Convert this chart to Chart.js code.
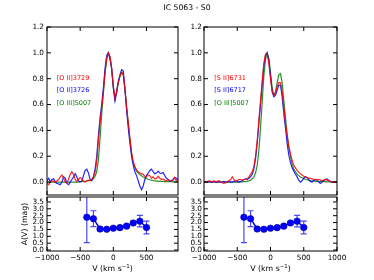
<!DOCTYPE html>
<html><head><meta charset="utf-8">
<script src="https://cdn.jsdelivr.net/npm/chart.js@4/dist/chart.umd.min.js"></script>
<style>
html,body{margin:0;padding:0;background:#fff;}
#wrap{position:relative;width:374px;height:280px;overflow:hidden;font-family:"DejaVu Sans",sans-serif;color:#000;}
canvas{position:absolute;left:0;top:0;}
.t{position:absolute;white-space:nowrap;line-height:1;transform:translate(-50%,-50%);}
.lg{position:absolute;white-space:nowrap;line-height:1;transform:translate(0,-50%);font-size:6.5px;}
sup{font-size:70%;vertical-align:0;position:relative;top:-0.45em;}
</style></head><body>
<div id="wrap">
<canvas id="c1" width="374" height="280"></canvas>
<canvas id="c2" width="374" height="280"></canvas>
<canvas id="c3" width="374" height="280"></canvas>
<canvas id="c4" width="374" height="280"></canvas>
<div class="t" style="left:187px;top:8px;font-size:7.7px;">IC 5063 - S0</div>
<div class="lg" style="left:56.7px;top:77.5px;color:#ff0000;">[O II]3729</div>
<div class="lg" style="left:56.7px;top:90px;color:#0000ff;">[O II]3726</div>
<div class="lg" style="left:56.7px;top:102.7px;color:#008000;">[O III]5007</div>
<div class="lg" style="left:214.3px;top:77.5px;color:#ff0000;">[S II]6731</div>
<div class="lg" style="left:214.3px;top:90px;color:#0000ff;">[S II]6717</div>
<div class="lg" style="left:214.3px;top:102.7px;color:#008000;">[O III]5007</div>
<div class="t" style="left:25px;top:223.5px;font-size:7.8px;transform:translate(-50%,-50%) rotate(-90deg);">A(V) (mag)</div>
<div class="t" style="left:112.5px;top:268.5px;font-size:7.8px;">V (km s<sup>−1</sup>)</div>
<div class="t" style="left:270.5px;top:268.5px;font-size:7.8px;">V (km s<sup>−1</sup>)</div>
</div>
<script>
// ---------- data ----------
const velocity = [-1000,-975,-950,-925,-900,-875,-850,-825,-800,-775,
 -750,-725,-700,-675,-650,-625,-600,-575,-550,-525,
 -500,-475,-450,-425,-400,-375,-350,-325,-300,-275,
 -250,-225,-200,-175,-150,-125,-100,-75,-50,-25,
 0,25,50,75,100,125,150,175,200,225,
 250,275,300,325,350,375,400,425,450,475,
 500,525,550,575,600,625,650,675,700,725,
 750,775,800,825,850,875,900,925,950,975,
 1000];

const oii3729 = [-0.01,-0.02,0.0,0.01,0.005,0.0,0.01,0.02,0.04,0.055,
 0.03,0.0,-0.005,0.02,0.06,0.08,0.06,0.02,0.005,0.02,
 0.035,0.025,0.005,0.0,0.01,0.015,0.01,0.02,0.04,0.08,
 0.16,0.32,0.46,0.58,0.7,0.85,0.96,1.0,0.97,0.88,
 0.74,0.65,0.7,0.77,0.82,0.85,0.83,0.72,0.58,0.46,
 0.34,0.23,0.16,0.12,0.095,0.08,0.07,0.065,0.06,0.045,
 0.04,0.055,0.05,0.03,0.04,0.025,0.03,0.045,0.03,0.02,
 0.025,0.015,0.01,0.02,0.01,0.005,0.015,0.035,0.01,0.0,
 0.0];

const oii3726 = [0.01,0.03,0.0,0.02,0.025,0.0,-0.01,-0.015,-0.02,0.0,
 0.04,0.03,-0.01,-0.02,0.0,0.02,0.04,0.065,0.04,0.01,
 0.0,0.01,0.05,0.09,0.1,0.07,0.02,0.01,0.04,0.1,
 0.2,0.36,0.5,0.6,0.73,0.88,0.98,1.0,0.95,0.88,
 0.74,0.63,0.7,0.78,0.83,0.87,0.86,0.72,0.56,0.42,
 0.3,0.2,0.13,0.08,0.05,0.01,-0.03,-0.06,-0.03,0.02,
 0.05,0.07,0.09,0.1,0.08,0.065,0.07,0.085,0.07,0.065,
 0.075,0.05,0.03,0.02,0.01,0.01,0.02,0.035,0.03,0.01,
 0.0];

const oiiiLeft = [0.0,0.0,0.0,0.0,0.0,0.0,0.0,0.0,0.0,0.0,
 0.0,0.0,0.0,0.0,0.0,0.0,0.0,0.0,0.0,0.0,
 0.003,0.004,0.005,0.006,0.008,0.01,0.013,0.018,0.026,0.045,
 0.08,0.17,0.34,0.53,0.69,0.84,0.95,1.0,0.97,0.87,
 0.72,0.64,0.69,0.77,0.82,0.85,0.83,0.72,0.58,0.46,
 0.33,0.22,0.15,0.11,0.085,0.07,0.058,0.048,0.04,0.033,
 0.027,0.022,0.018,0.015,0.012,0.01,0.008,0.007,0.006,0.005,
 0.005,0.004,0.004,0.003,0.003,0.003,0.002,0.002,0.002,0.002,
 0.002];

const sii6731 = [0.0,0.0,0.005,0.01,0.005,0.0,0.01,0.0,0.005,0.01,
 0.0,-0.005,-0.01,-0.005,0.005,0.01,0.02,0.04,0.02,0.005,
 0.01,0.02,0.02,0.015,0.02,0.02,0.025,0.04,0.06,0.08,
 0.12,0.2,0.32,0.48,0.63,0.78,0.92,0.99,0.99,0.92,
 0.8,0.7,0.67,0.69,0.74,0.77,0.77,0.7,0.58,0.46,
 0.36,0.28,0.22,0.17,0.13,0.11,0.09,0.075,0.065,0.055,
 0.045,0.04,0.035,0.03,0.028,0.025,0.02,0.02,0.015,0.02,
 0.015,0.01,0.015,0.02,0.015,0.01,0.005,0.0,0.0,0.0,
 0.0];

const sii6717 = [0.0,0.005,0.0,0.005,0.0,0.0,0.005,0.0,0.0,0.005,
 0.0,0.0,0.005,0.0,0.0,0.005,0.0,0.0,0.005,0.01,
 0.005,0.0,0.005,0.01,0.02,0.025,0.02,0.03,0.04,0.06,
 0.1,0.18,0.3,0.45,0.6,0.76,0.9,0.98,1.0,0.94,
 0.82,0.7,0.66,0.67,0.71,0.75,0.75,0.66,0.53,0.42,
 0.3,0.21,0.15,0.11,0.085,0.06,0.04,0.015,0.0,0.01,
 0.03,0.04,0.035,0.02,0.005,0.0,0.01,0.02,0.015,0.0,
 -0.01,0.0,0.01,0.02,0.025,0.015,0.005,0.0,0.0,0.0,
 0.0];

const oiiiRight = [0.0,0.0,0.0,0.0,0.0,0.0,0.0,0.0,0.0,0.0,
 0.0,0.0,0.0,0.0,0.0,0.0,0.0,0.0,0.0,0.0,
 0.0,0.0,0.001,0.002,0.003,0.004,0.006,0.01,0.015,0.025,
 0.04,0.07,0.13,0.24,0.42,0.62,0.82,0.95,1.0,0.96,
 0.85,0.73,0.67,0.7,0.77,0.83,0.84,0.77,0.63,0.5,
 0.37,0.27,0.2,0.14,0.1,0.08,0.06,0.05,0.04,0.033,
 0.027,0.022,0.018,0.014,0.011,0.009,0.007,0.006,0.005,0.004,
 0.004,0.003,0.003,0.003,0.002,0.002,0.002,0.002,0.002,0.002,
 0.002];

const avVelocity = [-400,-300,-200,-100,0,100,200,300,400,500];
const avMag = [2.39,2.28,1.53,1.51,1.59,1.63,1.74,1.97,2.1,1.64];
const avErr = [1.85,0.58,0.06,0.06,0.06,0.06,0.08,0.1,0.42,0.46];

const xTicksLeft = [-1000,-500,0,500];
const xTicksRight = [-1000,-500,0,500,1000];
const yTicksSpec = [0.0,0.2,0.4,0.6,0.8,1.0,1.2];
const yTicksAV = [0.0,0.5,1.0,1.5,2.0,2.5,3.0,3.5];

// ---------- setup ----------
Chart.defaults.font.family = "'DejaVu Sans', sans-serif";
Chart.defaults.font.size = 7.3;
Chart.defaults.color = '#000';

const panelInfo = {
  c1:{xt:xTicksLeft, yt:yTicksSpec, err:false},
  c2:{xt:xTicksRight, yt:yTicksSpec, err:false},
  c3:{xt:xTicksLeft, yt:yTicksAV, err:true},
  c4:{xt:xTicksRight, yt:yTicksAV, err:true}
};

const framePlugin = {
  id:'frameTicks',
  afterDatasetsDraw(chart){
    const info = panelInfo[chart.canvas.id];
    const {ctx, chartArea:a, scales:{x,y}} = chart;
    ctx.save();
    ctx.strokeStyle = '#000';
    ctx.lineWidth = 1;
    const L = 4;
    ctx.beginPath();
    info.xt.forEach(v=>{
      const p = x.getPixelForValue(v);
      if (p < a.left-0.5 || p > a.right+0.5) return;
      ctx.moveTo(p,a.bottom); ctx.lineTo(p,a.bottom-L);
      ctx.moveTo(p,a.top); ctx.lineTo(p,a.top+L);
    });
    info.yt.forEach(v=>{
      const p = y.getPixelForValue(v);
      if (p < a.top-0.5 || p > a.bottom+0.5) return;
      ctx.moveTo(a.left,p); ctx.lineTo(a.left+L,p);
      ctx.moveTo(a.right,p); ctx.lineTo(a.right-L,p);
    });
    ctx.stroke();
    ctx.strokeRect(a.left, a.top, a.right-a.left, a.bottom-a.top);
    ctx.restore();
  }
};

const errPlugin = {
  id:'errBars',
  beforeDatasetsDraw(chart){
    const info = panelInfo[chart.canvas.id];
    if (!info.err) return;
    const {ctx, chartArea:a, scales:{x,y}} = chart;
    ctx.save();
    ctx.beginPath();
    ctx.rect(a.left,a.top,a.right-a.left,a.bottom-a.top);
    ctx.clip();
    ctx.strokeStyle = 'rgba(40,40,255,0.85)';
    ctx.lineWidth = 1.2;
    ctx.beginPath();
    avVelocity.forEach((v,i)=>{
      const e = avErr[i];
      const px = x.getPixelForValue(v);
      const lo = y.getPixelForValue(avMag[i]-e);
      const hi = y.getPixelForValue(avMag[i]+e);
      ctx.moveTo(px,lo); ctx.lineTo(px,hi);
      ctx.moveTo(px-3,lo); ctx.lineTo(px+3,lo);
      ctx.moveTo(px-3,hi); ctx.lineTo(px+3,hi);
    });
    ctx.stroke();
    ctx.restore();
  }
};

const fmtX = v => v < 0 ? '\u2212' + Math.abs(v) : String(v);

function pts(xs, ys){ return xs.map((v,i)=>({x:v, y:ys[i]})); }

function makeChart(id, box, xMax, xt, yMin, yMax, yt, showX, datasets, yPad){
  return new Chart(document.getElementById(id), {
    type:'line',
    data:{datasets},
    options:{
      responsive:false, animation:false, devicePixelRatio:1,
      events:[],
      layout:{padding:{left:box.l-30, right:374-box.r, top:box.t, bottom:280-box.b-(showX?14:0)}},
      plugins:{legend:{display:false}, tooltip:{enabled:false}},
      scales:{
        x:{type:'linear', min:-1000, max:xMax,
          afterBuildTicks:s=>{s.ticks = xt.map(v=>({value:v}));},
          ticks:{display:showX, padding:3, callback:fmtX, maxRotation:0, autoSkip:false},
          grid:{display:false, drawTicks:false}, border:{display:false},
          afterFit:s=>{s.height = showX?14:0;}},
        y:{type:'linear', min:yMin, max:yMax,
          afterBuildTicks:s=>{s.ticks = yt.map(v=>({value:v}));},
          ticks:{padding:yPad, callback:v=>Number(v).toFixed(1), autoSkip:false},
          grid:{display:false, drawTicks:false}, border:{display:false},
          afterFit:s=>{s.width = 30;}}
      }
    },
    plugins:[errPlugin, framePlugin]
  });
}

function specSets(r, b, g){
  const base = {borderWidth:1.2, pointRadius:0, tension:0, fill:false};
  return [
    Object.assign({data:pts(velocity,r), borderColor:'rgba(255,0,0,0.85)', order:1}, base),
    Object.assign({data:pts(velocity,b), borderColor:'rgba(0,0,255,0.85)', order:2}, base),
    Object.assign({data:pts(velocity,g), borderColor:'rgba(0,128,0,0.85)', order:3}, base)
  ];
}
function avSets(){
  return [{data:pts(avVelocity,avMag), borderColor:'#0000ff', borderWidth:1.5,
    pointRadius:3.3, pointBackgroundColor:'#0000ff', pointBorderColor:'#00008b',
    pointBorderWidth:0.5, tension:0, fill:false}];
}

makeChart('c1', {l:47,r:178,t:27,b:195}, 975, xTicksLeft, -0.1, 1.2, yTicksSpec, false, specSets(oii3729, oii3726, oiiiLeft), 3);
makeChart('c2', {l:204,r:337,t:27,b:195}, 1000, xTicksRight, -0.1, 1.2, yTicksSpec, false, specSets(sii6731, sii6717, oiiiRight), 2);
makeChart('c3', {l:47,r:178,t:197,b:251}, 975, xTicksLeft, -0.07, 3.86, yTicksAV, true, avSets(), 3);
makeChart('c4', {l:204,r:337,t:197,b:251}, 1000, xTicksRight, -0.07, 3.86, yTicksAV, true, avSets(), 2);
</script>
</body></html>
